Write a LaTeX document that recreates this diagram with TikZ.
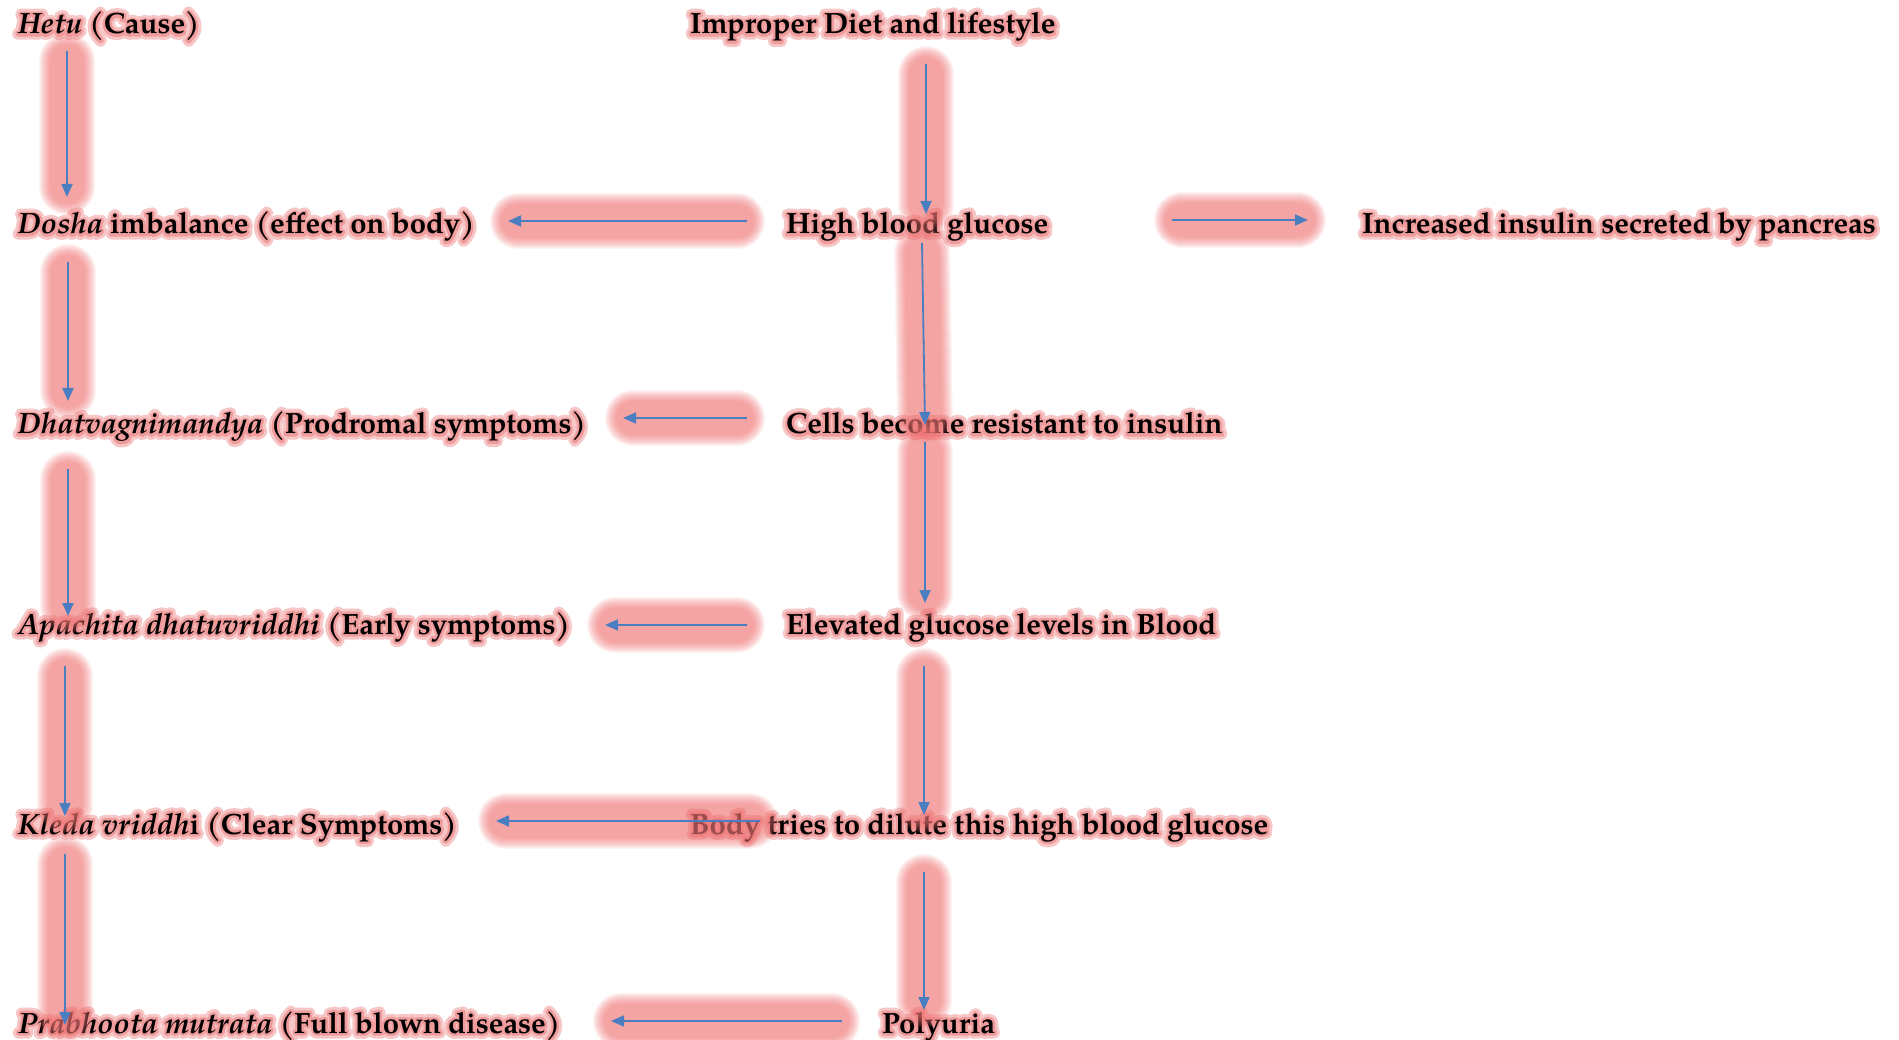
\documentclass[tikz,border=0pt]{standalone}
\usepackage{fontspec}
\setmainfont{TeX Gyre Pagella}
\usetikzlibrary{arrows.meta,calc}
\definecolor{arrowblue}{RGB}{74,126,193}
\definecolor{glowred}{RGB}{240,118,118}
% text with a soft red halo: two stroked copies behind the text itself
\newcommand\gl[1]{%
  \rlap{\special{pdf:literal direct 1 j 1 J 1 Tr 11 w 0.97 0.78 0.78 RG}#1\special{pdf:literal direct 0 Tr}}%
  \rlap{\special{pdf:literal direct 1 j 1 J 1 Tr 5 w 0.94 0.61 0.61 RG}#1\special{pdf:literal direct 0 Tr}}%
  #1}
\tikzset{
  lbl/.style={anchor=base west, inner sep=0pt, font=\fontsize{29.3}{35}\selectfont\bfseries},
  arr/.style={draw=arrowblue, line width=1.8pt, -{Triangle[length=13pt,width=11pt]}},
  glowpass/.style={draw=glowred, line cap=round, draw opacity=0.085}
}
\newcommand\glowseg[2]{%
  \foreach \w in {56,54,...,34}{\draw[glowpass, line width=\w pt] ($(#1)!10pt!(#2)$) -- ($(#2)!10pt!(#1)$);}}
\begin{document}
\begin{tikzpicture}[x=1pt,y=-1pt]
\useasboundingbox (0,0) rectangle (1899,1040);
% left column
\node[lbl] (hetu)  at (18,34)   {\gl{\textit{Hetu} (Cause)}};
\node[lbl] (dosha) at (18,234)  {\gl{\textit{Dosha} imbalance (effect on body)}};
\node[lbl] (dhat)  at (18,434)  {\gl{\textit{Dhatvagnimandya} (Prodromal symptoms)}};
\node[lbl] (apa)   at (18,634)  {\gl{\textit{Apachita dhatuvriddhi} (Early symptoms)}};
\node[lbl] (kleda) at (18,834)  {\gl{\textit{Kleda vriddh}i (Clear Symptoms)}};
\node[lbl] (prab)  at (18,1033) {\gl{\textit{Prabhoota mutrata} (Full blown disease)}};
% right column
\node[lbl] (diet)  at (690,34)   {\gl{Improper Diet and lifestyle}};
\node[lbl] (high)  at (786,234)  {\gl{High blood glucose}};
\node[lbl] (cells) at (786,434)  {\gl{Cells become resistant to insulin}};
\node[lbl] (elev)  at (786,634)  {\gl{Elevated glucose levels in Blood}};
\node[lbl] (body)  at (690,834)  {\gl{Body tries to dilute this high blood glucose}};
\node[lbl] (poly)  at (882,1033) {\gl{Polyuria}};
\node[lbl] (ins)   at (1362,234) {\gl{Increased insulin secreted by pancreas}};
% arrow end points
\coordinate (l1s) at (67,51);   \coordinate (l1e) at (67,197);
\coordinate (l2s) at (68,262);  \coordinate (l2e) at (68,401);
\coordinate (l3s) at (68,469);  \coordinate (l3e) at (68,616);
\coordinate (l4s) at (65,666);  \coordinate (l4e) at (65,816);
\coordinate (l5s) at (65,854);  \coordinate (l5e) at (65,1025);
\coordinate (r1s) at (926,64);  \coordinate (r1e) at (926,214);
\coordinate (r2s) at (922,243); \coordinate (r2e) at (925,425);
\coordinate (r3s) at (925,442); \coordinate (r3e) at (925,603);
\coordinate (r4s) at (924,666); \coordinate (r4e) at (924,815);
\coordinate (r5s) at (924,872); \coordinate (r5e) at (924,1010);
\coordinate (h1s) at (747,221); \coordinate (h1e) at (508,221);
\coordinate (h2s) at (1172,220);\coordinate (h2e) at (1308,220);
\coordinate (h3s) at (747,418); \coordinate (h3e) at (623,418);
\coordinate (h4s) at (747,625); \coordinate (h4e) at (605,625);
\coordinate (h5s) at (760,821); \coordinate (h5e) at (496,821);
\coordinate (h6s) at (842,1021);\coordinate (h6e) at (611,1021);
% glows
\foreach \a in {l1,l2,l3,l4,l5,r1,r2,r3,r4,r5,h1,h2,h3,h4,h5,h6}{
  \glowseg{\a s}{\a e}
}
% arrows
\foreach \a in {l1,l2,l3,l4,l5,r1,r2,r3,r4,r5,h1,h2,h3,h4,h5,h6}{
  \draw[arr] (\a s) -- (\a e);
}
\end{tikzpicture}
\end{document}
